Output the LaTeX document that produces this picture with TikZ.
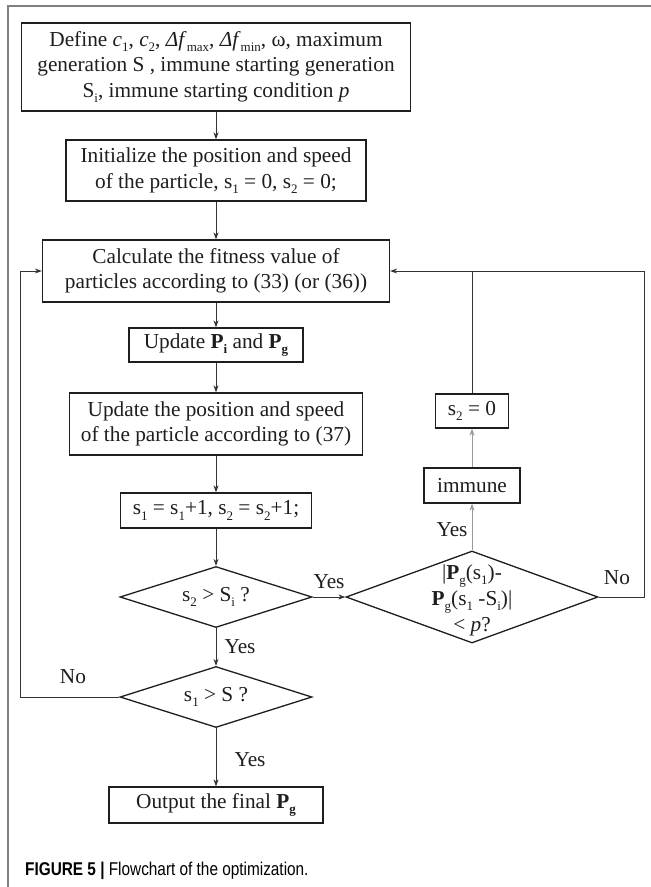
\documentclass[tikz,border=0pt]{standalone}
\usepackage{fontspec}
\setmainfont{Liberation Serif}
\newfontfamily\capfont[FakeStretch=0.83]{Liberation Sans}
\usetikzlibrary{shapes.geometric,arrows.meta}
\newcommand\lo[1]{\raisebox{-0.24em}{\fontsize{13}{13}\selectfont #1}}
\newcommand\fs{\fontsize{21.3}{25.5}\selectfont}
\definecolor{frame}{HTML}{808080}
\definecolor{ink}{HTML}{1E1E1E}
\definecolor{lnk}{HTML}{333333}
\definecolor{lgray}{HTML}{9A9A9A}
\tikzset{
  box/.style={draw=ink, line width=1.3pt, rectangle, inner sep=0pt, align=center, font=\fs, text=ink},
  dia/.style={draw=ink, line width=1.3pt, diamond, inner sep=0pt},
  txt/.style={inner sep=0pt, align=center, font=\fs, text=ink},
  conn/.style={draw=lnk, line width=0.9pt, -{Stealth[length=7pt,width=5pt]}},
  plain/.style={draw=lnk, line width=0.9pt},
  lab/.style={inner sep=0pt, font=\fs, text=ink}
}
\begin{document}
\begin{tikzpicture}[x=1pt,y=-1pt]
\useasboundingbox (0,0) rectangle (651,887);
\fill[white] (0,0) rectangle (651,887);
% outer frame
\draw[frame, line width=1.3pt] (651,6) -- (8,6) -- (8,887);

% nodes
\node[box, minimum width=389pt, minimum height=88pt] (b1) at (216,67)
  {Define \textit{c}\lo{1}, \textit{c}\lo{2}, \textit{Δf}\lo{max}, \textit{Δf}\lo{min}, ω, maximum\\
   generation S , immune starting generation\\
   S\lo{i}, immune starting condition \textit{p}};
\node[box, minimum width=300pt, minimum height=61pt] (b2) at (216,170.5)
  {Initialize the position and speed\\ of the particle, s\lo{1} = 0, s\lo{2} = 0;};
\node[box, minimum width=347pt, minimum height=62pt] (b3) at (216,271)
  {Calculate the fitness value of\\ particles according to (33) (or (36))};
\node[box, minimum width=174pt, minimum height=34pt] (b4) at (216,345)
  {Update \textbf{P}\lo{\textbf{i}} and \textbf{P}\lo{\textbf{g}}};
\node[box, minimum width=293pt, minimum height=62pt] (b5) at (216,424)
  {Update the position and speed\\ of the particle according to (37)};
\node[box, minimum width=191pt, minimum height=35pt] (b6) at (216,510.5)
  {s\lo{1} = s\lo{1}+1, s\lo{2} = s\lo{2}+1;};
\node[dia, minimum width=192pt, minimum height=61pt] (d1) at (216,597) {};
\node[txt] (d1t) at (216,597) {s\lo{2} > S\lo{i} ?};
\node[dia, minimum width=192pt, minimum height=61pt] (d2) at (216,697) {};
\node[txt] (d2t) at (216,697) {s\lo{1} > S ?};
\node[box, minimum width=214pt, minimum height=36pt] (b7) at (216,805)
  {Output the final \textbf{P}\lo{\textbf{g}}};
\node[dia, minimum width=252pt, minimum height=92pt] (d3) at (472,597) {};
\node[txt, font=\fontsize{21.3}{26}\selectfont] (d3t) at (472,600)
  {|\textbf{P}\lo{g}(s\lo{1})-\\ \textbf{P}\lo{g}(s\lo{1} -S\lo{i})|\\ < \textit{p}?};
\node[box, minimum width=96pt, minimum height=35pt] (im) at (472,485.5) {immune};
\node[box, minimum width=73pt, minimum height=34pt] (s2) at (472,411) {s\lo{2} = 0};

% connectors
\draw[conn] (b1) -- (b2);
\draw[conn] (b2) -- (b3);
\draw[conn] (b3) -- (b4);
\draw[conn] (b4) -- (b5);
\draw[conn] (b5) -- (b6);
\draw[conn] (b6) -- (d1);
\draw[conn] (d1) -- (d2);
\draw[conn] (d2) -- (b7);
\draw[conn] (d1.east) -- (d3.west);
\draw[conn, draw=lgray] (d3.north) -- (im.south);
\draw[conn, draw=lgray] (im.north) -- (s2.south);
\coordinate (jn) at (472,271);
\draw[plain] (s2.north) -- (jn);
\coordinate (rc1) at (644,597);
\coordinate (rc2) at (644,271);
\draw[conn] (d3.east) -- (rc1) -- (rc2) -- (b3.east);
\coordinate (lc1) at (20,697);
\coordinate (lc2) at (20,271);
\draw[conn] (d2.west) -- (lc1) -- (lc2) -- (b3.west);

% labels
\node[lab] (y1) at (240,647) {Yes};
\node[lab] (y2) at (329,582) {Yes};
\node[lab] (y3) at (452,530) {Yes};
\node[lab] (y4) at (250,760) {Yes};
\node[lab] (n1) at (617,578) {No};
\node[lab] (n2) at (73,677) {No};

% caption
\node[anchor=base west, inner sep=0pt, font=\capfont\fontsize{18.5}{18.5}\selectfont] (cap) at (25,875)
  {\textbf{FIGURE 5 |} Flowchart of the optimization.};
\end{tikzpicture}
\end{document}
